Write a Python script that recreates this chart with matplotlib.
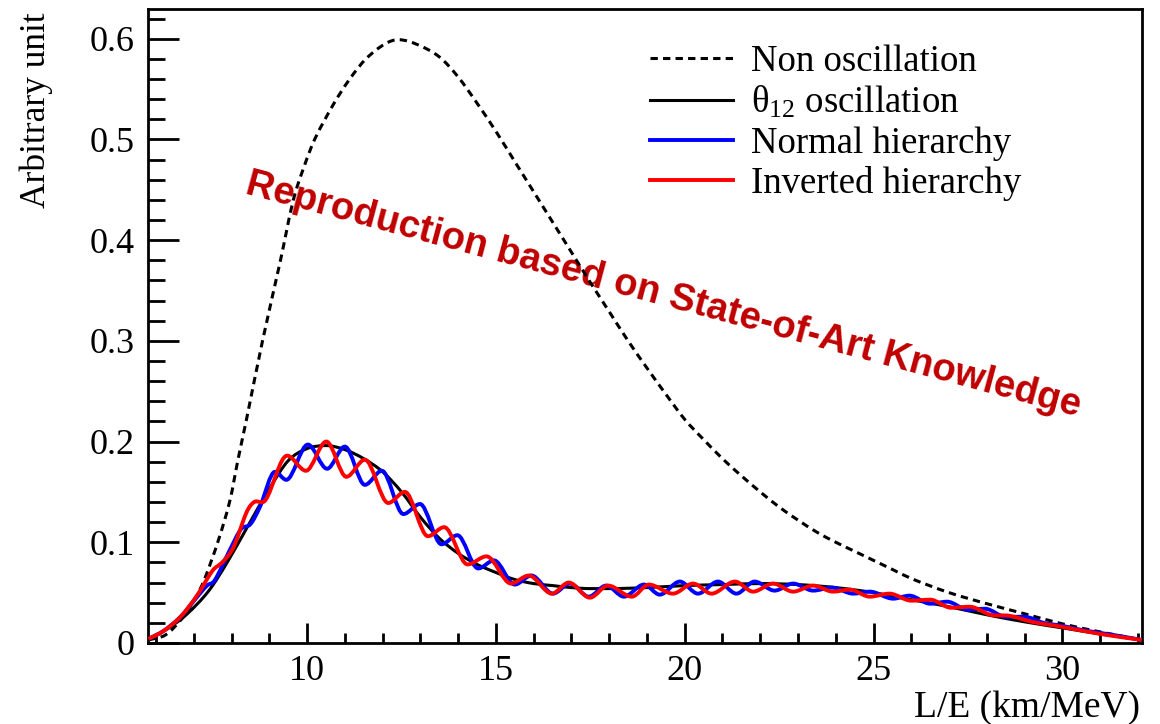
import numpy as np
import matplotlib
matplotlib.use("Agg")
import matplotlib.pyplot as plt
from matplotlib.path import Path
from matplotlib.patches import PathPatch
from matplotlib.lines import Line2D
from matplotlib.ticker import MultipleLocator, FixedLocator, FuncFormatter

# ---- spectra in L/E (km/MeV) ----
noosc_x = [5.80, 6.25, 6.68, 7.02, 7.28, 7.66, 7.96, 8.17, 8.39, 8.82, 9.29, 9.63,
           9.93, 10.20, 10.70, 11.13, 11.56, 12.07, 12.42, 12.93, 13.5, 14.0, 14.5,
           15.0, 15.5, 16.0, 16.5, 17.0, 17.5, 18.0, 18.5, 19.0, 19.5, 20.0, 20.5,
           21.0, 21.5, 22.0, 22.5, 23.0, 23.5, 24.0, 24.5, 25.0, 25.5, 26.0, 27.0,
           28.0, 29.0, 30.0, 31.0, 32.1]
noosc_y = [0.003, 0.008, 0.024, 0.043, 0.063, 0.103, 0.142, 0.182, 0.221, 0.300, 0.379, 0.439,
           0.474, 0.500, 0.535, 0.560, 0.580, 0.595, 0.599, 0.594, 0.582, 0.562, 0.536,
           0.508, 0.478, 0.448, 0.418, 0.388, 0.358, 0.329, 0.300, 0.273, 0.247, 0.222, 0.202,
           0.183, 0.166, 0.150, 0.135, 0.122, 0.110, 0.100, 0.091, 0.082, 0.073, 0.064, 0.050,
           0.039, 0.029, 0.019, 0.011, 0.003]

theta12_x = [5.80, 6.30, 6.80, 7.40, 7.90, 8.40, 9.00, 9.50, 10.0, 10.5, 11.0, 11.5,
             12.0, 12.5, 13.0, 13.5, 14.0, 14.5, 15.0, 15.5, 16.0, 16.5, 17.0, 17.5,
             18.0, 19.0, 20.0, 21.0, 22.0, 23.0, 24.0, 25.0, 26.0, 27.0, 28.0, 29.0,
             30.0, 31.0, 32.1]
theta12_y = [0.004, 0.014, 0.028, 0.052, 0.081, 0.114, 0.153, 0.181, 0.193, 0.196, 0.192, 0.183,
             0.170, 0.150, 0.125, 0.104, 0.089, 0.078, 0.070, 0.063, 0.059, 0.057, 0.055, 0.054,
             0.054, 0.055, 0.057, 0.058, 0.059, 0.058, 0.055, 0.050, 0.043, 0.036, 0.028, 0.021,
             0.015, 0.009, 0.003]

nh_x = [5.80, 6.20, 6.65, 7.05, 7.35, 7.55, 7.95, 8.25, 8.50, 8.75, 9.15, 9.45,
        10.02, 10.53, 11.00, 11.53, 11.98, 12.55, 12.99, 13.56, 13.98, 14.53, 14.95, 15.50,
        15.94, 16.51, 16.96, 17.46, 17.92, 18.39, 18.92, 19.34, 19.87, 20.35, 20.88, 21.37,
        21.85, 22.38, 22.87, 23.40, 23.90, 24.46, 24.90, 25.52, 25.95, 26.50, 26.95, 27.50,
        27.95, 28.50, 29.00, 29.50, 30.00, 30.50, 31.00, 31.50, 32.10]
nh_y = [0.004, 0.012, 0.026, 0.044, 0.057, 0.062, 0.092, 0.113, 0.118, 0.135, 0.170, 0.162,
        0.197, 0.173, 0.195, 0.157, 0.171, 0.128, 0.138, 0.098, 0.107, 0.074, 0.082, 0.058,
        0.067, 0.049, 0.059, 0.046, 0.057, 0.046, 0.058, 0.048, 0.061, 0.049, 0.061, 0.049,
        0.061, 0.052, 0.059, 0.052, 0.055, 0.049, 0.051, 0.044, 0.047, 0.039, 0.041, 0.033,
        0.034, 0.026, 0.026, 0.020, 0.017, 0.013, 0.010, 0.007, 0.003]

ih_x = [5.80, 6.20, 6.65, 7.10, 7.50, 7.75, 8.05, 8.40, 8.60, 8.90, 9.47, 9.97,
        10.51, 11.04, 11.53, 12.15, 12.59, 13.20, 13.63, 14.25, 14.75, 15.40, 15.87, 16.48,
        16.93, 17.49, 17.97, 18.60, 19.05, 19.69, 20.22, 20.71, 21.33, 21.81, 22.34, 22.87,
        23.40, 23.93, 24.37, 24.90, 25.42, 26.00, 26.50, 27.05, 27.55, 28.10, 28.60, 29.20,
        30.00, 31.00, 32.10]
ih_y = [0.004, 0.012, 0.026, 0.048, 0.072, 0.080, 0.095, 0.130, 0.140, 0.142, 0.186, 0.171,
        0.200, 0.165, 0.182, 0.139, 0.150, 0.106, 0.115, 0.078, 0.086, 0.059, 0.067, 0.049,
        0.060, 0.045, 0.057, 0.046, 0.058, 0.049, 0.059, 0.049, 0.061, 0.051, 0.059, 0.051,
        0.057, 0.051, 0.053, 0.046, 0.049, 0.042, 0.043, 0.035, 0.036, 0.028, 0.027, 0.021,
        0.016, 0.009, 0.003]

labels = ["Non oscillation", r"θ$_{\mathregular{12}}$ oscillation",
          "Normal hierarchy", "Inverted hierarchy"]
x_major = [10, 15, 20, 25, 30]

SERIF = "Liberation Serif"
plt.rcParams["font.family"] = [SERIF, "DejaVu Serif"]
plt.rcParams["mathtext.fontset"] = "custom"
plt.rcParams["mathtext.rm"] = SERIF
plt.rcParams["mathtext.default"] = "regular"


def smooth_path(xs, ys):
    """Cubic Hermite path through the points, flat tangents at local extrema."""
    x = np.asarray(xs, float)
    y = np.asarray(ys, float)
    n = len(x)
    m = np.zeros(n)
    for i in range(n):
        if i == 0:
            m[i] = (y[1] - y[0]) / (x[1] - x[0])
        elif i == n - 1:
            m[i] = (y[-1] - y[-2]) / (x[-1] - x[-2])
        else:
            d1 = y[i] - y[i - 1]
            d2 = y[i + 1] - y[i]
            if d1 * d2 <= 0:
                m[i] = 0.0
            else:
                m[i] = (y[i + 1] - y[i - 1]) / (x[i + 1] - x[i - 1])
    verts = [(x[0], y[0])]
    codes = [Path.MOVETO]
    for i in range(n - 1):
        h = x[i + 1] - x[i]
        verts += [(x[i] + h / 3, y[i] + m[i] * h / 3),
                  (x[i + 1] - h / 3, y[i + 1] - m[i + 1] * h / 3),
                  (x[i + 1], y[i + 1])]
        codes += [Path.CURVE4] * 3
    return Path(verts, codes)


fig = plt.figure(figsize=(11.6, 7.24), dpi=100)
ax = fig.add_axes([0.1280, 0.1119, 0.8562, 0.8750])

dash = (0, (2.4, 1.7))
styles = [
    dict(color="black", lw=2.2, ls=dash),
    dict(color="black", lw=2.2, ls="-"),
    dict(color="#0000ff", lw=2.8, ls="-"),
    dict(color="#ff0000", lw=2.8, ls="-"),
]
series = [(noosc_x, noosc_y), (theta12_x, theta12_y), (nh_x, nh_y), (ih_x, ih_y)]
for k, ((xs, ys), st) in enumerate(zip(series, styles)):
    patch = PathPatch(smooth_path(xs, ys), fill=False, edgecolor=st["color"],
                      lw=st["lw"], linestyle=st["ls"], zorder=3 + k,
                      capstyle="butt", joinstyle="round")
    ax.add_patch(patch)

ax.set_xlim(5.8, 32.1)
ax.set_ylim(0, 0.629)

# axis cosmetics
for s in ax.spines.values():
    s.set_linewidth(2.0)
ax.xaxis.set_major_locator(FixedLocator(x_major))
ax.xaxis.set_minor_locator(MultipleLocator(1))
ax.yaxis.set_major_locator(MultipleLocator(0.1))
ax.yaxis.set_minor_locator(MultipleLocator(0.02))
ax.yaxis.set_major_formatter(FuncFormatter(lambda v, p: "0" if abs(v) < 1e-9 else f"{v:.1f}"))
ax.tick_params(axis="both", which="both", direction="in", width=2.0,
               top=False, right=False, labelsize=26)
ax.tick_params(axis="y", which="major", length=22.5, pad=10)
ax.tick_params(axis="y", which="minor", length=12)
ax.tick_params(axis="x", which="major", length=14.5, pad=9)
ax.tick_params(axis="x", which="minor", length=7.5)

fig.text(0.983, 0.0105, "L/E (km/MeV)", ha="right", va="baseline", fontsize=27)
fig.text(0.031, 0.983, "Arbitrary unit", ha="center", va="top", rotation=90, fontsize=25.5)

handles = [Line2D([], [], color=st["color"], lw=st["lw"], ls=st["ls"]) for st in styles]
leg = ax.legend(handles, labels, loc="upper left", bbox_to_anchor=(0.505, 0.945),
                frameon=False, fontsize=26.5, handlelength=2.25, handletextpad=0.5,
                labelspacing=0.15, borderpad=0, borderaxespad=0)

ax.text(0.5716, 0.5925, "Reproduction based on State-of-Art Knowledge",
        transform=fig.transFigure, ha="center", va="center", rotation=-15,
        rotation_mode="anchor", color="#c00000", fontsize=27.5, fontweight="bold",
        family="Liberation Sans", zorder=1)

fig.savefig("out.png", dpi=100)
